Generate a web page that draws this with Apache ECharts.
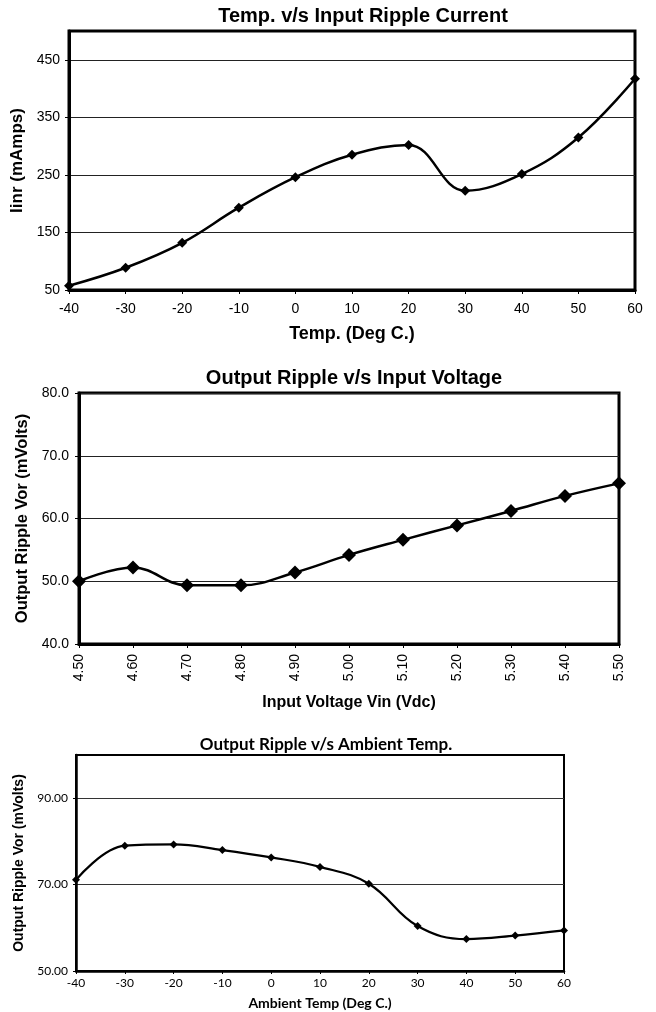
<!DOCTYPE html>
<html>
<head>
<meta charset="utf-8">
<script src="https://cdn.jsdelivr.net/npm/echarts@6/dist/echarts.min.js"></script>
<style>
html,body{margin:0;padding:0;background:#fff;}
#c{width:656px;height:1012px;}
</style>
</head>
<body>
<div id="c"></div>
<script>
// ---- data ----
const tempCats = ['-40','-30','-20','-10','0','10','20','30','40','50','60'];
const iinr = [57.5, 88.7, 132, 193, 246, 285, 302, 222.6, 251.5, 315, 417];
const iinrTicks = [50, 150, 250, 350, 450];

const vinCats = ['4.50','4.60','4.70','4.80','4.90','5.00','5.10','5.20','5.30','5.40','5.50'];
const vorVin = [50.0, 52.2, 49.35, 49.35, 51.4, 54.2, 56.6, 58.9, 61.2, 63.6, 65.6];
const vinTicks = [40, 50, 60, 70, 80];

const ambCats = ['-40','-30','-20','-10','0','10','20','30','40','50','60'];
const vorAmb = [71.1, 79.0, 79.3, 78.0, 76.3, 74.1, 70.2, 60.4, 57.4, 58.2, 59.4];
const ambTicks = [50, 70, 90];

// ---- styling ----
const SANS = "'Liberation Sans', Arial, sans-serif";
const HUM = "Lato, 'Liberation Sans', sans-serif";

function lbl(ticks, digits) {
  return function (v) {
    return ticks.indexOf(Math.round(v * 1000) / 1000) >= 0 ? v.toFixed(digits) : '';
  };
}

const chart = echarts.init(document.getElementById('c'), null, {renderer: 'canvas'});

const gridBase = {show: true, borderColor: '#000', backgroundColor: '#fff', containLabel: false, outerBoundsMode: 'none'};

const option = {
  animation: false,
  backgroundColor: '#fff',
  title: [
    {text: 'Temp. v/s Input Ripple Current', left: 358, top: 1, textAlign: 'center',
     textStyle: {fontFamily: SANS, fontWeight: 'bold', fontSize: 20, color: '#000'}},
    {text: 'Output Ripple v/s Input Voltage', left: 349, top: 363, textAlign: 'center',
     textStyle: {fontFamily: SANS, fontWeight: 'bold', fontSize: 20, color: '#000'}},
    {text: 'Output Ripple v/s Ambient Temp.', left: 321, top: 731, textAlign: 'center',
     textStyle: {fontFamily: HUM, fontWeight: 'bold', fontSize: 17, color: '#000'}}
  ],
  grid: [
    Object.assign({left: 69, top: 31, width: 566, height: 259, borderWidth: 3}, gridBase),
    Object.assign({left: 79, top: 393, width: 540, height: 251, borderWidth: 3}, gridBase),
    Object.assign({left: 76, top: 755, width: 488, height: 216, borderWidth: 2}, gridBase)
  ],
  xAxis: [
    {gridIndex: 0, type: 'category', data: tempCats, boundaryGap: false,
     name: 'Temp. (Deg C.)', nameLocation: 'middle', nameGap: 35,
     nameTextStyle: {fontFamily: SANS, fontWeight: 'bold', fontSize: 18, color: '#000'},
     axisLine: {lineStyle: {color: '#000', width: 3}},
     axisTick: {length: 4, lineStyle: {color: '#000', width: 1}},
     axisLabel: {fontFamily: SANS, fontSize: 14, color: '#000', margin: 12}},
    {gridIndex: 1, type: 'category', data: vinCats, boundaryGap: false,
     name: 'Input Voltage Vin (Vdc)', nameLocation: 'middle', nameGap: 51,
     nameTextStyle: {fontFamily: SANS, fontWeight: 'bold', fontSize: 16, color: '#000'},
     axisLine: {lineStyle: {color: '#000', width: 3}},
     axisTick: {length: 4, lineStyle: {color: '#000', width: 1}},
     axisLabel: {fontFamily: SANS, fontSize: 14, color: '#000', rotate: 90, margin: 10}},
    {gridIndex: 2, type: 'category', data: ambCats, boundaryGap: false,
     name: 'Ambient Temp (Deg C.)', nameLocation: 'middle', nameGap: 25,
     nameTextStyle: {fontFamily: HUM, fontWeight: 'bold', fontSize: 14, color: '#000'},
     axisLine: {lineStyle: {color: '#000', width: 2.5}},
     axisTick: {length: 3, lineStyle: {color: '#000', width: 1}},
     axisLabel: {fontFamily: HUM, fontSize: 12, color: '#000', margin: 6}}
  ],
  yAxis: [
    {gridIndex: 0, type: 'value', min: 50, max: 500, interval: 100,
     name: 'Iinr (mAmps)', nameLocation: 'middle', nameGap: 37,
     nameTextStyle: {fontFamily: SANS, fontWeight: 'bold', fontSize: 17, color: '#000'},
     axisLine: {show: true, lineStyle: {color: '#000', width: 3}},
     axisTick: {show: true, length: 4, customValues: iinrTicks, lineStyle: {color: '#000', width: 1}},
     axisLabel: {fontFamily: SANS, fontSize: 14, color: '#000', margin: 9, formatter: lbl(iinrTicks, 0)},
     splitLine: {show: true, lineStyle: {color: '#222', width: 1}}},
    {gridIndex: 1, type: 'value', min: 40, max: 80, interval: 10,
     name: 'Output Ripple Vor (mVolts)', nameLocation: 'middle', nameGap: 45,
     nameTextStyle: {fontFamily: SANS, fontWeight: 'bold', fontSize: 16.5, color: '#000'},
     axisLine: {show: true, lineStyle: {color: '#000', width: 3}},
     axisTick: {show: true, length: 4, lineStyle: {color: '#000', width: 1}},
     axisLabel: {fontFamily: SANS, fontSize: 14, color: '#000', margin: 10, formatter: lbl(vinTicks, 1)},
     splitLine: {show: true, lineStyle: {color: '#222', width: 1}}},
    {gridIndex: 2, type: 'value', min: 50, max: 100, interval: 20,
     name: 'Output Ripple Vor (mVolts)', nameLocation: 'middle', nameGap: 45,
     nameTextStyle: {fontFamily: SANS, fontWeight: 'bold', fontSize: 14, color: '#000'},
     axisLine: {show: true, lineStyle: {color: '#000', width: 2.5}},
     axisTick: {show: true, length: 3, customValues: ambTicks, lineStyle: {color: '#000', width: 1}},
     axisLabel: {fontFamily: HUM, fontSize: 12, color: '#000', margin: 8, formatter: lbl(ambTicks, 2)},
     splitLine: {show: true, lineStyle: {color: '#333', width: 1}}}
  ],
  series: [
    {type: 'line', xAxisIndex: 0, yAxisIndex: 0, data: iinr, smooth: 0.4,
     symbol: 'diamond', symbolSize: 10, showAllSymbol: true,
     lineStyle: {color: '#000', width: 2.5}, itemStyle: {color: '#000'}},
    {type: 'line', xAxisIndex: 1, yAxisIndex: 1, data: vorVin, smooth: 0.4,
     symbol: 'diamond', symbolSize: 14, showAllSymbol: true,
     lineStyle: {color: '#000', width: 2.5}, itemStyle: {color: '#000'}},
    {type: 'line', xAxisIndex: 2, yAxisIndex: 2, data: vorAmb, smooth: 0.4,
     symbol: 'diamond', symbolSize: 8, showAllSymbol: true,
     lineStyle: {color: '#000', width: 2.2}, itemStyle: {color: '#000'}}
  ]
};
chart.setOption(option);
</script>
</body>
</html>
